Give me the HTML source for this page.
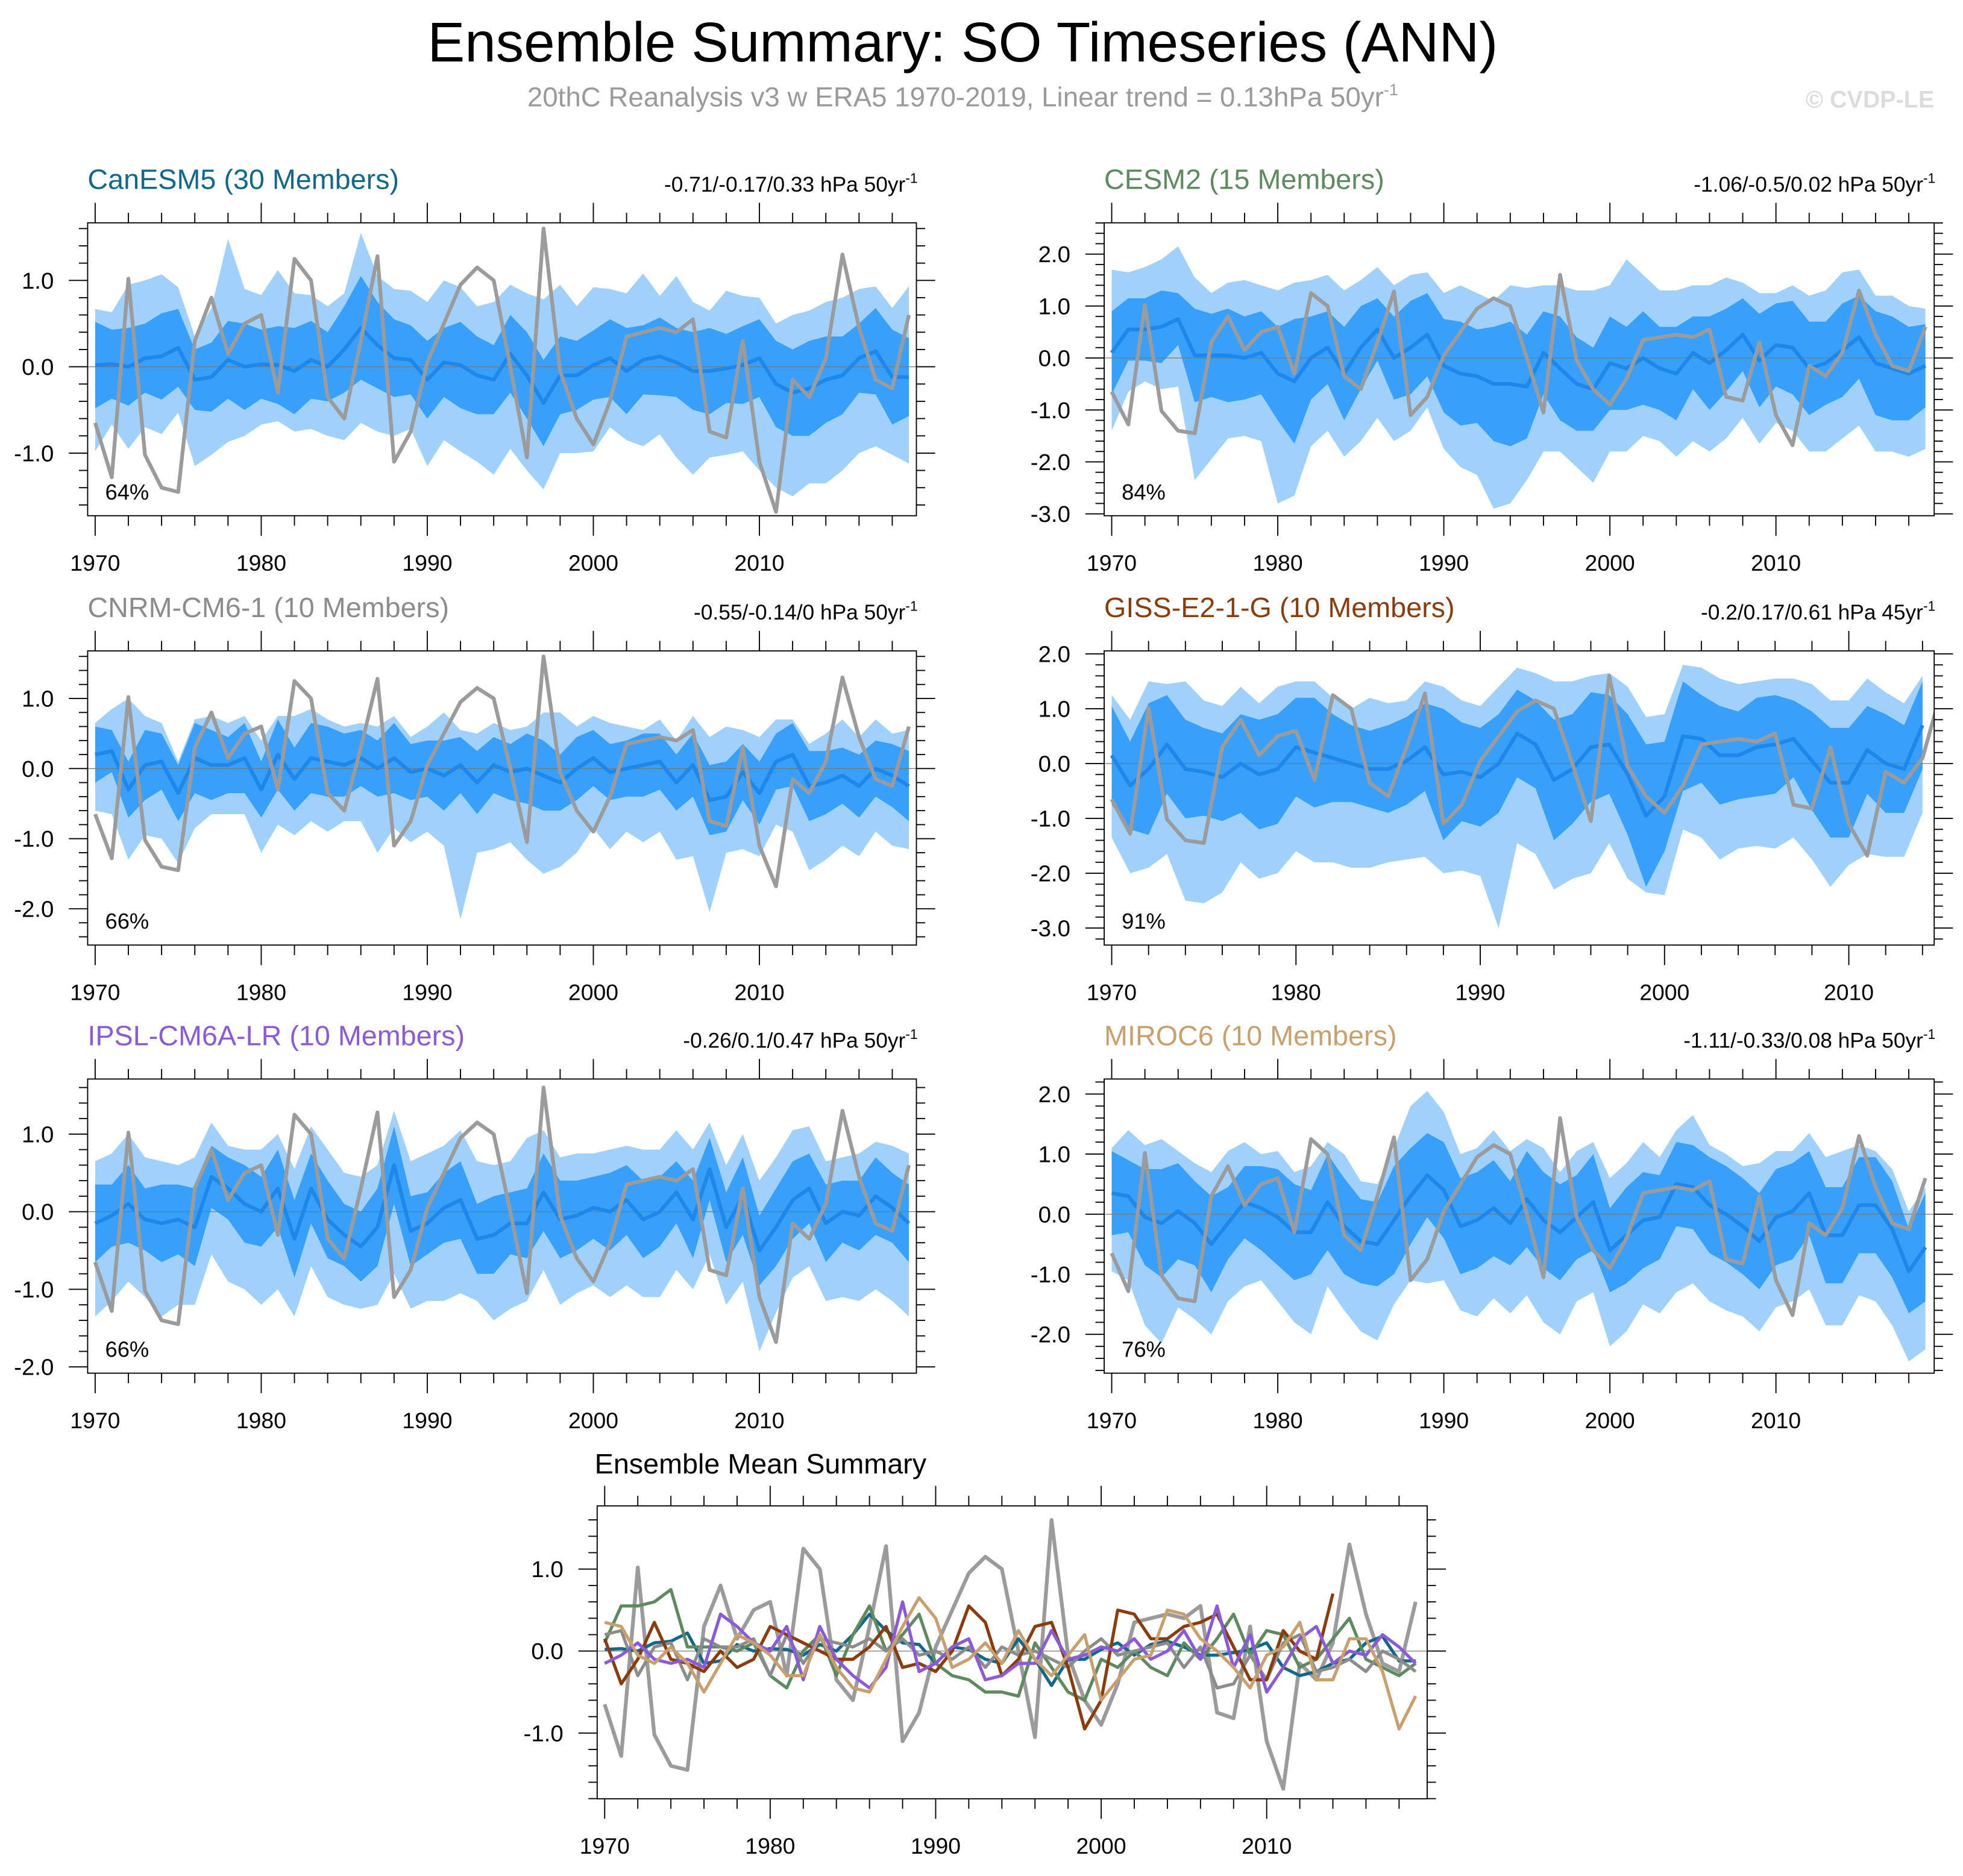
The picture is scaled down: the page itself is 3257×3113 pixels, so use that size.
<!DOCTYPE html>
<html><head><meta charset="utf-8"><style>
html,body{margin:0;padding:0;background:#fff}
svg{display:block;font-family:"Liberation Sans",sans-serif}
</style></head><body>
<svg id="fig" width="3257" height="3113" viewBox="0 0 1568 1498.7" xmlns="http://www.w3.org/2000/svg">
<text x="769" y="49" text-anchor="middle" font-size="44.6">Ensemble Summary: SO Timeseries (ANN)</text>
<text x="769" y="85" text-anchor="middle" font-size="22" fill="#9a9a9a">20thC Reanalysis v3 w ERA5 1970-2019, Linear trend = 0.13hPa 50yr<tspan dy="-9" font-size="13">-1</tspan></text>
<text x="1545" y="86" text-anchor="end" font-size="19" font-weight="bold" fill="#dcdcdc">© CVDP-LE</text>
<text x="475" y="1177" font-size="22.5">Ensemble Mean Summary</text>
<g id="panels"></g>
</svg>
<script>
const obs = [-0.65,-1.28,1.02,-1.02,-1.4,-1.45,0.3,0.8,0.15,0.5,0.6,-0.3,1.25,1.0,-0.35,-0.6,0.3,1.28,-1.1,-0.75,0.05,0.5,0.95,1.15,1.0,0.0,-1.05,1.6,-0.05,-0.6,-0.9,-0.4,0.35,0.4,0.45,0.4,0.55,-0.75,-0.82,0.3,-1.1,-1.68,-0.15,-0.35,0.1,1.3,0.45,-0.15,-0.25,0.6];
const xTicks = [1970,1980,1990,2000,2010];

const meanCan = [0.02,0.03,0.0,0.1,0.12,0.22,-0.15,-0.12,0.08,0.0,0.03,0.02,-0.05,0.08,0.0,0.2,0.45,0.25,0.1,0.08,-0.15,0.05,0.02,-0.1,-0.15,0.15,-0.1,-0.42,-0.1,-0.1,0.02,0.1,-0.05,0.08,0.12,0.05,-0.05,-0.05,-0.02,0.02,0.1,-0.2,-0.3,-0.25,-0.15,-0.1,0.1,0.18,-0.12,-0.12];
const iwCan = [0.5,0.4,0.45,0.4,0.5,0.45,0.35,0.4,0.45,0.5,0.4,0.45,0.5,0.45,0.4,0.5,0.6,0.5,0.45,0.4,0.45,0.4,0.5,0.45,0.4,0.45,0.5,0.5,0.45,0.4,0.4,0.45,0.5,0.4,0.45,0.4,0.45,0.5,0.4,0.45,0.45,0.5,0.5,0.55,0.5,0.45,0.4,0.5,0.55,0.45];
const hiCan = [0.65,0.6,0.95,0.9,0.95,0.7,0.5,0.8,1.4,0.9,0.8,1.1,0.9,0.75,0.7,0.65,1.1,0.8,0.8,0.8,0.9,0.95,0.9,0.8,0.9,0.8,0.95,1.2,1.05,0.8,0.9,0.8,0.9,1.0,0.7,1.0,0.8,0.7,0.9,0.8,0.7,0.7,0.9,0.9,0.9,0.9,0.8,0.75,0.8,1.05];
const loCan = [1.0,0.7,0.95,0.8,0.9,0.75,1.0,0.9,0.95,0.8,0.7,0.65,0.7,0.8,0.8,1.05,1.1,1.0,0.9,0.8,1.0,0.9,1.0,1.0,1.1,1.1,1.1,1.0,0.9,0.9,1.0,0.8,0.8,1.0,0.9,1.1,1.2,1.0,1.0,1.0,1.3,1.2,1.2,1.1,1.2,1.1,1.1,1.1,0.9,1.0];

const meanCesm = [0.1,0.55,0.55,0.6,0.75,0.05,0.05,0.05,0.0,0.1,-0.3,-0.45,0.0,0.2,-0.3,0.2,0.55,0.0,0.2,0.45,-0.15,-0.3,-0.35,-0.5,-0.5,-0.55,0.1,-0.2,-0.5,-0.6,-0.1,-0.2,0.0,-0.2,-0.3,0.1,-0.1,0.15,0.45,-0.05,0.25,0.2,-0.2,-0.1,0.15,0.4,-0.1,-0.2,-0.3,-0.15];
const iwCesm = [0.8,0.6,0.6,0.7,0.5,0.9,0.8,0.9,0.8,0.8,0.9,1.2,0.8,0.7,0.9,0.8,0.6,0.8,0.9,0.8,0.9,1.0,0.9,1.1,1.2,1.0,0.8,1.0,0.9,0.8,0.9,0.8,0.9,0.8,0.9,0.7,0.9,0.8,0.7,0.9,0.8,0.9,0.9,0.8,0.9,0.8,1.0,1.0,0.9,0.8];
const hiCesm = [1.6,1.1,1.2,1.3,1.4,1.5,1.2,1.4,1.5,1.3,1.6,1.9,1.5,1.4,1.6,1.3,1.2,1.4,1.4,1.2,1.4,1.7,1.6,1.6,1.9,1.9,1.3,1.6,1.8,1.9,1.5,2.1,1.6,1.5,1.6,1.3,1.5,1.4,1.0,1.3,1.0,1.2,1.4,1.4,1.5,1.3,1.3,1.4,1.3,1.1];
const loCesm = [1.5,1.2,1.0,1.2,1.3,2.4,2.0,1.6,1.5,1.7,2.5,2.2,1.7,1.6,1.6,1.8,1.7,1.6,1.6,1.4,1.6,1.8,1.9,2.4,2.3,1.8,1.9,1.6,1.6,1.8,1.7,1.6,1.5,1.4,1.6,1.7,1.7,1.7,1.6,1.6,1.5,1.6,1.6,1.7,1.7,1.7,1.7,1.6,1.6,1.6];

const meanCnrm = [0.2,0.25,-0.3,0.05,0.1,-0.35,0.15,0.05,0.05,0.15,-0.3,0.2,-0.15,0.15,0.1,0.05,0.15,0.0,0.15,-0.05,0.0,-0.1,0.05,-0.2,0.05,-0.05,0.0,-0.1,-0.2,0.0,0.15,-0.05,0.0,0.05,0.1,-0.2,0.05,-0.45,-0.4,-0.05,-0.35,0.1,0.2,-0.25,-0.2,-0.1,-0.25,0.0,-0.1,-0.25];
const iwCnrm = [0.4,0.3,0.4,0.5,0.4,0.4,0.5,0.5,0.4,0.5,0.4,0.5,0.45,0.5,0.5,0.45,0.4,0.4,0.5,0.4,0.4,0.5,0.4,0.45,0.4,0.4,0.5,0.5,0.4,0.45,0.4,0.4,0.4,0.45,0.4,0.4,0.45,0.5,0.5,0.4,0.45,0.4,0.45,0.5,0.45,0.4,0.45,0.4,0.45,0.5];
const hiCnrm = [0.45,0.6,1.3,0.7,0.55,0.45,0.55,0.7,0.6,0.6,0.7,0.55,0.9,0.7,0.6,0.55,0.5,0.6,0.6,0.5,0.6,0.9,0.5,0.7,0.6,0.6,0.6,0.9,1.0,0.6,0.6,0.7,0.6,0.5,0.6,0.6,0.7,0.9,1.0,0.6,0.8,0.6,0.5,0.6,0.7,0.8,0.7,0.7,0.6,0.8];
const loCnrm = [0.8,0.9,1.0,1.0,1.1,1.0,1.0,0.7,0.7,0.8,0.9,1.0,0.8,0.9,1.0,0.8,0.9,1.2,1.0,1.0,0.9,1.0,2.2,1.0,1.2,1.0,1.3,1.4,1.2,1.2,1.0,1.1,0.9,1.1,1.0,1.1,1.3,1.6,0.8,1.1,0.9,0.9,1.1,1.2,1.1,1.0,1.0,0.9,1.0,0.9];

const meanGiss = [0.15,-0.4,-0.1,0.35,-0.1,-0.15,-0.25,0.0,-0.2,-0.1,0.3,0.2,0.1,0.0,-0.1,-0.1,0.05,0.3,-0.2,-0.15,-0.25,0.0,0.55,0.35,-0.3,-0.1,0.3,0.35,-0.2,-0.95,-0.6,0.5,0.45,0.15,0.15,0.3,0.35,0.45,0.05,-0.35,-0.35,0.25,0.0,-0.1,0.7];
const iwGiss = [0.9,0.8,1.2,0.9,0.9,0.8,0.8,0.9,1.0,1.0,0.9,1.0,0.8,0.7,0.7,0.8,0.8,0.8,1.2,0.9,0.9,0.9,0.8,0.8,1.1,1.0,1.0,0.9,1.1,1.3,1.0,1.0,0.8,0.9,0.8,0.9,0.9,0.7,0.9,1.0,1.0,0.8,0.9,0.8,0.8];
const hiGiss = [1.1,1.2,1.6,1.1,1.6,1.3,1.3,1.4,1.3,1.5,1.2,1.3,1.1,1.0,1.3,1.2,1.1,1.2,1.6,1.3,1.3,1.4,1.2,1.3,1.8,1.6,1.3,1.3,1.6,1.8,1.5,1.3,1.3,1.4,1.3,1.2,1.2,1.1,1.4,1.5,1.5,1.3,1.3,1.2,0.9];
const loGiss = [1.5,1.6,1.8,2.0,2.4,2.4,2.1,1.8,1.9,1.9,1.9,2.0,1.9,1.9,1.8,1.7,1.8,2.0,1.8,1.8,1.8,3.0,2.0,2.0,2.0,2.0,2.3,1.8,1.9,1.4,1.8,1.7,1.8,1.9,1.7,1.8,1.9,1.8,1.8,1.9,1.5,1.9,1.7,1.6,1.6];

const meanIpsl = [-0.15,-0.05,0.1,-0.1,-0.15,-0.1,-0.2,0.45,0.3,0.1,0.0,0.3,-0.35,0.3,-0.1,-0.3,-0.45,-0.2,0.6,-0.25,-0.15,0.05,0.15,-0.35,-0.3,-0.15,-0.15,0.25,-0.1,-0.05,0.05,0.0,0.15,-0.1,0.0,0.25,-0.1,0.55,-0.2,0.2,-0.5,-0.2,0.15,0.3,-0.15,0.0,-0.05,0.2,0.05,-0.15];
const iwIpsl = [0.5,0.4,0.5,0.4,0.5,0.45,0.5,0.4,0.4,0.5,0.45,0.5,0.5,0.45,0.5,0.4,0.45,0.5,0.5,0.45,0.4,0.45,0.5,0.45,0.5,0.4,0.45,0.5,0.5,0.45,0.4,0.5,0.45,0.5,0.45,0.4,0.5,0.4,0.45,0.5,0.45,0.5,0.5,0.45,0.5,0.4,0.45,0.5,0.45,0.5];
const hiIpsl = [0.8,0.8,0.9,0.8,0.8,0.7,0.9,0.7,0.55,0.7,0.8,0.7,0.9,0.8,0.9,0.8,0.9,0.8,0.7,0.9,0.9,0.8,0.9,1.0,0.9,0.8,1.1,0.8,0.8,0.8,0.7,0.8,0.7,0.9,0.8,0.8,0.9,0.6,0.8,0.8,0.9,0.9,0.9,0.8,0.8,0.7,0.8,0.7,0.8,0.9];
const loIpsl = [1.2,1.1,1.0,1.0,1.2,1.1,1.0,1.0,1.2,1.1,1.2,1.3,1.0,1.0,1.0,0.9,0.8,1.0,1.4,1.0,1.0,1.2,1.2,0.8,1.1,1.1,1.0,1.0,1.1,1.0,1.0,1.1,1.1,1.0,1.1,1.0,0.9,1.1,1.0,1.1,1.3,1.1,1.0,1.0,1.0,1.1,1.1,1.2,1.2,1.2];

const meanMiroc = [0.35,0.3,-0.05,-0.15,0.05,-0.15,-0.5,-0.15,0.2,0.1,-0.05,-0.3,-0.3,0.2,-0.2,-0.45,-0.5,-0.1,0.3,0.65,0.4,-0.2,-0.1,0.1,-0.15,0.25,-0.1,-0.3,-0.05,0.2,-0.6,-0.35,-0.1,-0.05,0.5,0.45,0.15,0.0,-0.2,-0.45,-0.05,0.05,0.35,-0.35,-0.35,0.15,0.15,-0.25,-0.95,-0.55];
const iwMiroc = [0.7,0.6,0.8,0.9,0.8,0.7,0.8,0.6,0.6,0.7,0.8,0.8,0.7,0.8,0.8,0.7,0.7,0.9,0.8,0.7,0.8,0.8,0.8,0.8,0.7,0.8,0.8,0.8,0.7,0.8,0.7,0.8,0.8,0.7,0.7,0.7,0.8,0.8,0.8,0.8,0.8,0.8,0.7,0.8,0.8,0.8,0.8,0.8,0.7,0.9];
const hiMiroc = [0.75,1.1,1.2,1.4,1.0,1.0,1.2,1.2,1.0,0.9,1.1,1.0,1.1,1.0,1.2,1.0,1.0,1.2,1.5,1.4,1.3,1.2,1.2,1.3,1.2,1.0,1.2,1.0,1.1,1.0,1.2,1.2,1.3,1.0,0.9,1.2,1.0,1.0,1.0,1.3,1.1,1.0,1.0,1.3,1.4,1.0,0.9,1.0,1.0,1.0];
const loMiroc = [1.3,1.4,1.8,2.0,1.6,1.6,1.5,1.3,1.4,1.2,1.4,1.5,1.7,1.4,1.4,1.5,1.6,1.4,1.4,1.8,1.5,1.4,1.6,1.5,1.5,1.6,1.7,1.7,1.4,1.5,1.6,1.6,1.4,1.6,1.8,1.6,1.6,1.6,1.5,1.5,1.5,1.5,1.6,1.5,1.5,1.5,1.6,1.6,1.5,1.7];

const NS = "http://www.w3.org/2000/svg";
const root = document.getElementById('panels');
function mk(tag, attrs, parent){const e=document.createElementNS(NS,tag);for(const k in attrs)e.setAttribute(k,attrs[k]);(parent||root).appendChild(e);return e;}
let clipId=0;

function drawPanel(p){
  const g = mk('g',{});
  
  
  const xs = y => p.x1970 + (y-1970)*p.py;
  const ys = v => p.zero - v*p.pu;
  const tk = mk('g',{stroke:'#000','stroke-width':0.9},g);
  
  
  for(let y=1970;y<=p.lastTick;y+=2){
    const x=xs(y); if(x>p.x1+0.5) break;
    const L = (y%10===0)?16:8;
    mk('line',{x1:x,x2:x,y1:p.y1,y2:p.y1+L},tk);
    mk('line',{x1:x,x2:x,y1:p.y0,y2:p.y0-L},tk);
  }
  for(let k=Math.ceil(p.vmin*5);k<=Math.floor(p.vmax*5);k++){
    const v=k/5, y=ys(v); if(y<p.y0-0.5||y>p.y1+0.5) continue;
    const L=(k%5===0)?15:7;
    mk('line',{x1:p.x0,x2:p.x0-L,y1:y,y2:y},tk);
    mk('line',{x1:p.x1,x2:p.x1+L,y1:y,y2:y},tk);
  }
  const cid='c'+(clipId++);
  const cp=mk('clipPath',{id:cid},g); mk('rect',{x:p.x0,y:p.y0,width:p.x1-p.x0,height:p.y1-p.y0},cp);
  const inner=mk('g',{'clip-path':'url(#'+cid+')'},g);
  if(p.mean){
    const n=p.mean.length;
    const band=(up,dn,fill,name)=>{
      let d='';
      for(let i=0;i<n;i++) d+=(i?'L':'M')+xs(1970+i).toFixed(2)+','+ys(p.mean[i]+up[i]).toFixed(2);
      for(let i=n-1;i>=0;i--) d+='L'+xs(1970+i).toFixed(2)+','+ys(p.mean[i]-dn[i]).toFixed(2);
      const e=mk('path',{d:d+'Z',fill:fill},inner);
      
      
    };
    band(p.hi,p.lo,'#9fd1fc','outer-percentile-band');
    band(p.iw,p.iw,'#38a0fb','inner-percentile-band');
  }
  const zl=mk('line',{x1:p.x0,x2:p.x1,y1:ys(0),y2:ys(0),stroke:'#777','stroke-width':0.6},inner);
  
  
  const line=(arr,color,w,name)=>{
    const pts=arr.map((v,i)=>xs(1970+i).toFixed(2)+','+ys(v).toFixed(2)).join(' ');
    const e=mk('polyline',{points:pts,fill:'none',stroke:color,'stroke-width':w,'stroke-linejoin':'round'},inner);
    
    
  };
  if(p.mean){
    line(p.mean,'#1e87ea',3,'ensemble-mean-line');
    line(obs.slice(0,p.nObs),'#9b9b9b',3,'observed-line');
  }
  if(p.series){
    line(obs,'#9b9b9b',3,'observed-line');
    p.series.forEach(s=>line(s.v,s.c,2.5,s.n));
  }
  const bx=mk('rect',{x:p.x0,y:p.y0,width:p.x1-p.x0,height:p.y1-p.y0,fill:'none',stroke:'#000','stroke-width':0.9},g);
  
  
  xTicks.forEach(y=>{
    const t=mk('text',{x:xs(y),y:p.y1+44,'text-anchor':'middle','font-size':18},g);
    
    
    t.textContent=y;
  });
  p.yt.forEach(v=>{
    const t=mk('text',{x:p.x0-27,y:ys(v)+6.5,'text-anchor':'end','font-size':18.5},g);
    
    
    t.textContent=v.toFixed(1);
  });
  if(p.title){
    const t=mk('text',{x:p.x0,y:p.y0-27,'font-size':22.5,fill:p.color},g);
    
    
    t.textContent=p.title;
    const r=mk('text',{x:p.x1+1,y:p.y0-25,'text-anchor':'end','font-size':17},g);
    
    
    r.textContent=p.trend;
    const s=mk('tspan',{dy:-7,'font-size':11},r); s.textContent='-1';
    const pc=mk('text',{x:p.x0+14,y:p.y1-13,'font-size':17.5},g);
    
    
    pc.textContent=p.pct;
  }
}

const L={x0:70,x1:732,x1970:76,py:13.265}, R={x0:882,x1:1545,x1970:888,py:13.265};
drawPanel({...L,name:'canesm5-panel',y0:178,y1:412,zero:293,pu:69,vmin:-1.75,vmax:1.65,yt:[1,0,-1],lastTick:2020,mean:meanCan,iw:iwCan,hi:hiCan,lo:loCan,nObs:50,title:'CanESM5 (30 Members)',color:'#11688a',trend:'-0.71/-0.17/0.33 hPa 50yr',pct:'64%'});
drawPanel({...R,name:'cesm2-panel',y0:178,y1:412,zero:286,pu:41.5,vmin:-3.05,vmax:2.6,yt:[2,1,0,-1,-2,-3],lastTick:2020,mean:meanCesm,iw:iwCesm,hi:hiCesm,lo:loCesm,nObs:50,title:'CESM2 (15 Members)',color:'#5d8a5f',trend:'-1.06/-0.5/0.02 hPa 50yr',pct:'84%'});
drawPanel({...L,name:'cnrm-panel',y0:520,y1:755,zero:614,pu:56,vmin:-2.5,vmax:1.7,yt:[1,0,-1,-2],lastTick:2020,mean:meanCnrm,iw:iwCnrm,hi:hiCnrm,lo:loCnrm,nObs:50,title:'CNRM-CM6-1 (10 Members)',color:'#8c8c8c',trend:'-0.55/-0.14/0 hPa 50yr',pct:'66%'});
drawPanel({x0:882,x1:1545,x1970:888,py:14.72,name:'giss-panel',y0:520,y1:755,zero:610,pu:43.8,vmin:-3.3,vmax:2.1,yt:[2,1,0,-1,-2,-3],lastTick:2015,mean:meanGiss,iw:iwGiss,hi:hiGiss,lo:loGiss,nObs:46,title:'GISS-E2-1-G (10 Members)',color:'#8b3c0c',trend:'-0.2/0.17/0.61 hPa 45yr',pct:'91%'});
drawPanel({...L,name:'ipsl-panel',y0:862,y1:1097,zero:968,pu:62,vmin:-2.1,vmax:1.7,yt:[1,0,-1,-2],lastTick:2020,mean:meanIpsl,iw:iwIpsl,hi:hiIpsl,lo:loIpsl,nObs:50,title:'IPSL-CM6A-LR (10 Members)',color:'#8a5ad8',trend:'-0.26/0.1/0.47 hPa 50yr',pct:'66%'});
drawPanel({...R,name:'miroc6-panel',y0:862,y1:1097,zero:970,pu:48,vmin:-2.6,vmax:2.2,yt:[2,1,0,-1,-2],lastTick:2020,mean:meanMiroc,iw:iwMiroc,hi:hiMiroc,lo:loMiroc,nObs:50,title:'MIROC6 (10 Members)',color:'#c8a06e',trend:'-1.11/-0.33/0.08 hPa 50yr',pct:'76%'});
drawPanel({x0:477,x1:1140,x1970:483,py:13.22,name:'ensemble-mean-summary-panel',y0:1203,y1:1437,zero:1319,pu:65.5,vmin:-1.8,vmax:1.75,yt:[1,0,-1],lastTick:2020,
  series:[{v:meanCan,c:'#11688a',n:'canesm5-mean-line'},{v:meanCesm,c:'#5d8a5f',n:'cesm2-mean-line'},{v:meanCnrm,c:'#8c8c8c',n:'cnrm-mean-line'},{v:meanGiss,c:'#8b3c0c',n:'giss-mean-line'},{v:meanIpsl,c:'#8a5ad8',n:'ipsl-mean-line'},{v:meanMiroc,c:'#c8a06e',n:'miroc6-mean-line'}]});
</script>
</body></html>
